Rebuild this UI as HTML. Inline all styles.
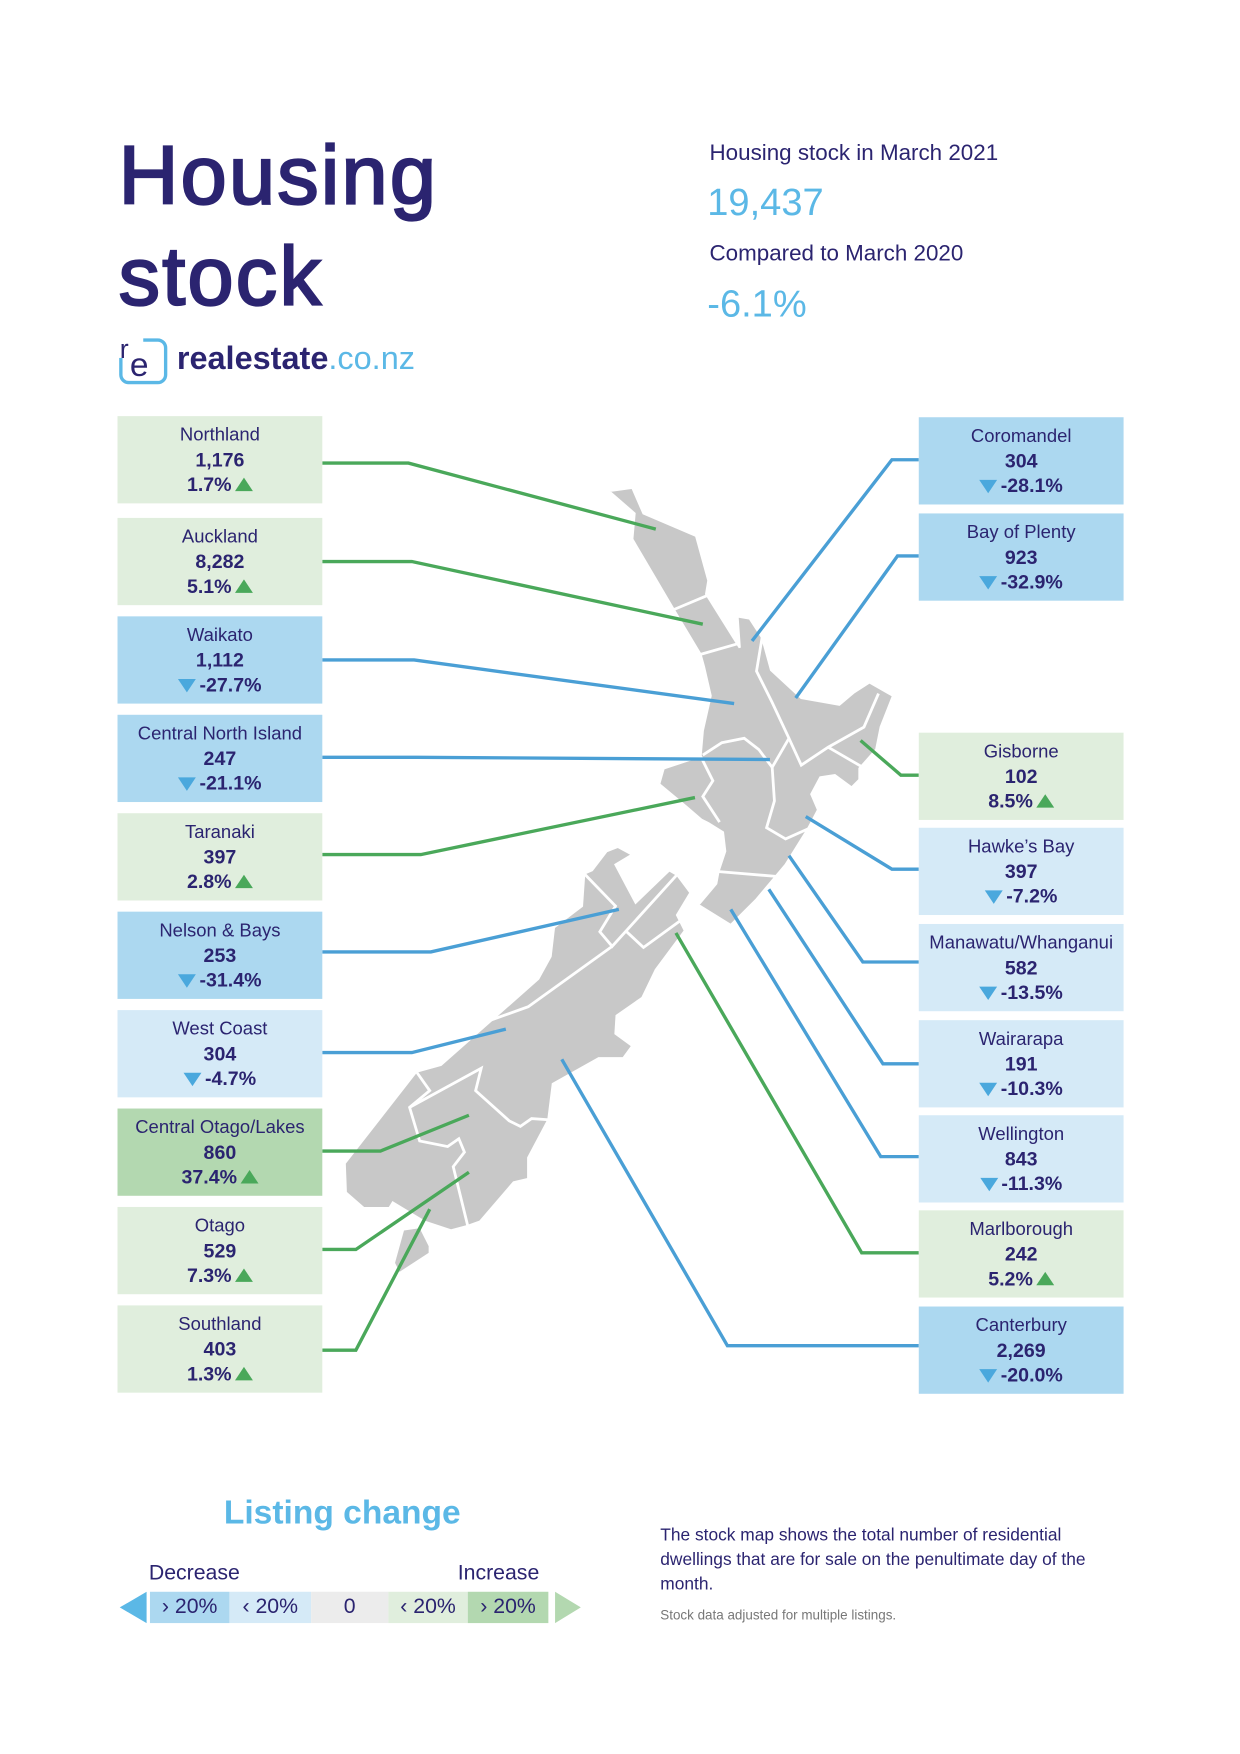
<!DOCTYPE html>
<html><head><meta charset="utf-8">
<style>
html,body{margin:0;padding:0;background:#fff;}
body{width:1240px;height:1754px;overflow:hidden;position:relative;font-family:"Liberation Sans",sans-serif;}
#wrap{position:absolute;left:0;top:0;width:1108px;height:1568px;transform:scale(1.1191,1.1186);transform-origin:0 0;color:#2b2470;}
.abs{position:absolute;}
.box{position:absolute;width:183px;height:78px;text-align:center;font-size:16.5px;line-height:22px;}
.box .n{padding-top:6px;}
.box .v,.box .c{font-weight:bold;font-size:17.5px;}
.tri-up{display:inline-block;width:0;height:0;border-left:8px solid transparent;border-right:8px solid transparent;border-bottom:12px solid #4aa85a;margin-left:3px;vertical-align:0px;}
.tri-dn{display:inline-block;width:0;height:0;border-left:8px solid transparent;border-right:8px solid transparent;border-top:12px solid #4aa8dd;margin-right:3px;vertical-align:-1px;}
.seg{position:absolute;top:1423px;height:28px;font-size:19px;line-height:28px;text-align:center;}
</style></head><body>
<div id="wrap">
  <div class="abs" style="left:106px;top:112px;font-size:74px;line-height:90px;font-weight:normal;-webkit-text-stroke:2px #2b2470;letter-spacing:2px;color:#2b2470;">Housing<br>stock</div>
  <div class="abs" style="left:106px;top:298px;height:46px;">
    <svg class="abs" width="44" height="46" style="left:0;top:0">
      <rect x="2" y="6" width="40" height="38" rx="7" fill="none" stroke="#5bb8e6" stroke-width="3"/>
      <rect x="0" y="0" width="22" height="22" fill="#fff"/>
      <text x="1" y="22" font-size="24" font-family="Liberation Sans" fill="#2b2470">r</text>
      <text x="10" y="38" font-size="30" font-family="Liberation Sans" fill="#2b2470">e</text>
    </svg>
    <div class="abs" style="left:52px;top:7px;font-size:29px;font-weight:bold;white-space:nowrap;">realestate<span style="color:#5bb8e6;font-weight:normal">.co.nz</span></div>
  </div>
  <div class="abs" style="left:634px;top:126px;font-size:20px;">Housing stock in March 2021</div>
  <div class="abs" style="left:632px;top:162px;font-size:34px;color:#5bb8e6;">19,437</div>
  <div class="abs" style="left:634px;top:216px;font-size:20px;">Compared to March 2020</div>
  <div class="abs" style="left:632px;top:253px;font-size:34px;color:#5bb8e6;">-6.1%</div>

  <svg id="map" class="abs" style="left:0;top:0" width="1108" height="1300">
    <path fill="#c8c8c8" stroke="#fff" stroke-width="2" d="M544,439 L565,436 L575,459 L622,479 L633,519 L631,531 L661,579 L659,551 L670,553 L681,570 L689,599 L716,624 L750,630 L763,619 L777,610 L798,622 L787,650 L783,670 L768,687 L768,697 L761,704 L746,693 L733,695 L725,710 L731,724 L722,741 L702,773 L676,804 L653,827 L624,809 L640,790 L642,779 L648,761 L646,744 L633,736 L627,733 L613,721 L589,701 L593,687 L626,676 L628,653 L635,622 L629,596 L626,585 L602,545 L565,482 L567,459 Z"/>
    <path fill="#c8c8c8" stroke="#fff" stroke-width="2" d="M617,798 L605,818 L612,832 L586,867 L574,892 L551,908 L550,924 L565,935 L557,946 L535,946 L494,969 L490,1001 L481,1018 L472,1035 L472,1054 L459,1057 L429,1092 L418,1096 L403,1100 L379,1092 L351,1075 L348,1080 L325,1080 L309,1066 L308,1040 L372,958 L394,952 L481,875 L492,855 L495,829 L520,810 L522,781 L529,778 L542,761 L552,757 L565,764 L550,773 L568,807 L598,778 L605,782 Z"/>
    <path fill="#c8c8c8" d="M361,1100 L375,1098 L383,1114 L383,1120 L357,1137 L353,1129 Z"/>
    <g fill="none" stroke="#fff" stroke-width="2.5">
      <polyline points="602,545 633,532"/>
      <polyline points="626,585 661,575"/>
      <polyline points="681,570 676,600 690,628 705,660 690,686 678,670 665,660 645,664 628,675"/>
      <polyline points="705,660 716,684 740,668 772,650 785,620"/>
      <polyline points="740,668 778,690"/>
      <polyline points="690,686 692,716 685,740 702,750 722,741"/>
      <polyline points="640,779 700,784 717,780"/>
      <polyline points="626,676 637,698 628,712 643,735"/>
      <polyline points="522,781 550,810 536,833 547,846 605,782"/>
      <polyline points="547,846 472,900 430,915 372,958"/>
      <polyline points="560,833 575,847 608,823 620,825"/>
      <polyline points="372,958 384,975 366,990 375,1020 400,1025 410,1018 415,1030 405,1043 418,1096"/>
      <polyline points="366,990 430,955 425,975 455,1002 465,1007 475,1000 490,1001"/>
    </g>
  </svg>
  <div id="boxes"></div>

  <div class="abs" style="left:200px;top:1336px;font-size:30px;color:#5bb8e6;font-weight:bold;">Listing change</div>
  <div class="abs" style="left:133px;top:1396px;font-size:19px;">Decrease</div>
  <div class="abs" style="left:409px;top:1396px;font-size:19px;">Increase</div>
  <div class="abs" style="left:107px;top:1423px;width:0;height:0;border-top:14px solid transparent;border-bottom:14px solid transparent;border-right:24px solid #5bb8e6;"></div>
  <div class="seg" style="left:134px;width:71px;background:#acd8f0;">› 20%</div>
  <div class="seg" style="left:205px;width:73px;background:#d5eaf7;">‹ 20%</div>
  <div class="seg" style="left:278px;width:69px;background:#ececec;">0</div>
  <div class="seg" style="left:347px;width:71px;background:#e0eedd;">‹ 20%</div>
  <div class="seg" style="left:418px;width:72px;background:#b3d8b0;">› 20%</div>
  <div class="abs" style="left:496px;top:1423px;width:0;height:0;border-top:14px solid transparent;border-bottom:14px solid transparent;border-left:23px solid #b3d8b0;"></div>

  <div class="abs" style="left:590px;top:1362px;width:395px;font-size:15.5px;line-height:22px;">The stock map shows the total number of residential dwellings that are for sale on the penultimate day of the month.</div>
  <div class="abs" style="left:590px;top:1437px;font-size:12px;color:#777;">Stock data adjusted for multiple listings.</div>
</div>
<script>
const regions = ["Northland","Auckland","Waikato","Central North Island","Taranaki","Nelson & Bays","West Coast","Central Otago/Lakes","Otago","Southland","Coromandel","Bay of Plenty","Gisborne","Hawke’s Bay","Manawatu/Whanganui","Wairarapa","Wellington","Marlborough","Canterbury"];
const stock = [1176,8282,1112,247,397,253,304,860,529,403,304,923,102,397,582,191,843,242,2269];
const changes = [1.7,5.1,-27.7,-21.1,2.8,-31.4,-4.7,37.4,7.3,1.3,-28.1,-32.9,8.5,-7.2,-13.5,-10.3,-11.3,5.2,-20.0];
// layout (not data): box side, box top, leader line elbow and map anchor
const side = ["L","L","L","L","L","L","L","L","L","L","R","R","R","R","R","R","R","R","R"];
const boxTop = [372,463,551,639,727,815,903,991,1079,1167,373,459,655,740,826,912,997,1082,1168];
const elbow = [[365,414],[368,502],[370,590],[373,677],[376,764],[385,851],[368,941],[340,1029],[318,1117],[318,1207],[797,411],[802,497],[805,693],[797,777],[771,860],[789,951],[787,1034],[770,1120],[650,1203]];
const anchor = [[586,473],[628,558],[656,629],[688,679],[621,713],[553,813],[452,920],[419,997],[419,1048],[384,1081],[672,573],[711,624],[769,662],[720,730],[705,765],[687,795],[653,813],[604,834],[502,947]];

function fillColor(c){
  if(c>=20) return "#b3d8b0";
  if(c>=0) return "#e0eedd";
  if(c<=-20) return "#acd8f0";
  return "#d5eaf7";
}
const boxes=document.getElementById('boxes');
const svg=document.getElementById('map');
const NS="http://www.w3.org/2000/svg";
regions.forEach((name,i)=>{
  const c=changes[i], left=side[i]==="L"?105:821;
  const b=document.createElement('div');
  b.className='box';
  b.style.left=left+'px'; b.style.top=boxTop[i]+'px'; b.style.background=fillColor(c);
  
  
  const val=stock[i].toLocaleString('en-US');
  const pct=c.toFixed(1)+'%';
  const chg = c>=0 ? pct+'<span class="tri-up"></span>' : '<span class="tri-dn"></span>'+pct;
  b.innerHTML='<div class="n">'+name+'</div><div class="v">'+val+'</div><div class="c">'+chg+'</div>';
  boxes.appendChild(b);
  const edgeX = side[i]==="L"?288:821;
  const pl=document.createElementNS(NS,'polyline');
  pl.setAttribute('points', edgeX+','+elbow[i][1]+' '+elbow[i][0]+','+elbow[i][1]+' '+anchor[i][0]+','+anchor[i][1]);
  pl.setAttribute('fill','none');
  pl.setAttribute('stroke', c>=0?'#4aa85a':'#4a9fd5');
  pl.setAttribute('stroke-width','3');
  
  
  svg.appendChild(pl);
});
</script>
</body></html>
